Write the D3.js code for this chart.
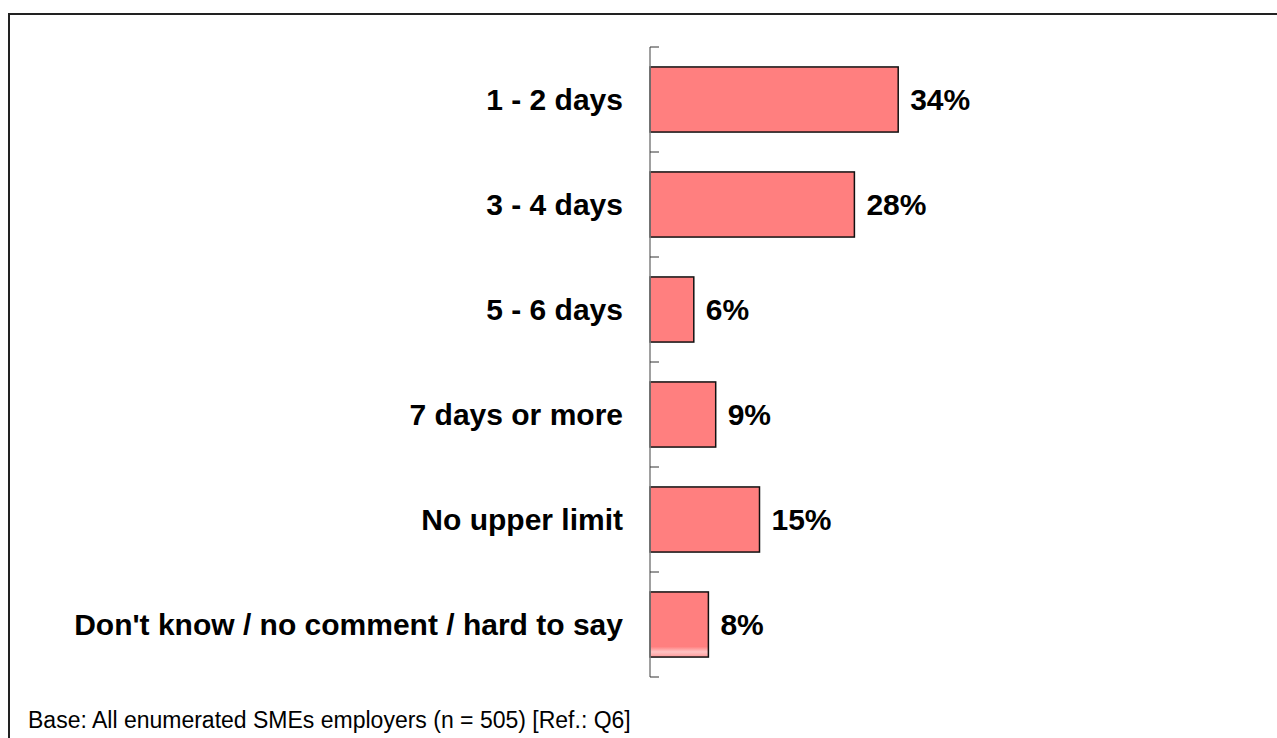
<!DOCTYPE html>
<html>
<head>
<meta charset="utf-8">
<script src="https://cdn.jsdelivr.net/npm/d3@7"></script>
<style>
  html, body { margin: 0; padding: 0; background: #fff; }
  svg { display: block; }
  text { font-family: "Liberation Sans", Arial, sans-serif; }
</style>
</head>
<body>
<svg id="chart" width="1277" height="738"></svg>
<script>
// Maximum number of consecutive days of leave allowed
const categories = ["1 - 2 days", "3 - 4 days", "5 - 6 days", "7 days or more", "No upper limit", "Don't know / no comment / hard to say"];
const values = [34, 28, 6, 9, 15, 8];
const valueLabels = ["34%", "28%", "6%", "9%", "15%", "8%"];
const footnote = "Base: All enumerated SMEs employers (n = 505) [Ref.: Q6]";

const svg = d3.select("#chart");
const W = 1277, H = 738;

// Soft fade at the foot of the last bar
const grad = svg.append("defs").append("linearGradient")
  .attr("id", "lastBarFill").attr("x1", 0).attr("x2", 0).attr("y1", 0).attr("y2", 1);
grad.append("stop").attr("offset", "0.84").attr("stop-color", "#FF7F7F");
grad.append("stop").attr("offset", "0.92").attr("stop-color", "#FFC4C4");
grad.append("stop").attr("offset", "1").attr("stop-color", "#FF9A9A");

// Frame (only top and left edges fall inside the canvas)
svg.append("rect")
  .attr("x", 9).attr("y", 14)
  .attr("width", W + 20).attr("height", H + 20)
  .attr("fill", "none")
  .attr("stroke", "#222")
  .attr("stroke-width", 2);

const axisX = 650, axisTop = 47, axisBottom = 677;

const x = d3.scaleLinear().domain([0, 100]).range([axisX, axisX + 730]);
const y = d3.scaleBand().domain(categories).range([axisTop, axisBottom]).paddingInner(0.38).paddingOuter(0.19);

// Bars
svg.append("g").selectAll("rect")
  .data(values)
  .join("rect")
  .attr("x", x(0))
  .attr("y", (d, i) => y(categories[i]))
  .attr("width", d => x(d) - x(0))
  .attr("height", y.bandwidth())
  .attr("fill", (d, i) => i === values.length - 1 ? "url(#lastBarFill)" : "#FF7F7F")
  .attr("stroke", "#111")
  .attr("stroke-width", 1.5);

// Category axis: gray line with separator ticks pointing toward bars
const tickYs = d3.range(categories.length + 1).map(i => axisTop + i * (axisBottom - axisTop) / categories.length);
svg.append("line")
  .attr("x1", axisX).attr("x2", axisX)
  .attr("y1", axisTop).attr("y2", axisBottom)
  .attr("stroke", "#808080").attr("stroke-width", 1.5);
svg.append("g").selectAll("line")
  .data(tickYs)
  .join("line")
  .attr("x1", axisX).attr("x2", axisX + 9)
  .attr("y1", d => d).attr("y2", d => d)
  .attr("stroke", "#333").attr("stroke-width", 1);

// Category labels
svg.append("g").selectAll("text")
  .data(categories)
  .join("text")
  .attr("x", 623)
  .attr("y", d => y(d) + y.bandwidth() / 2)
  .attr("dy", "0.36em")
  .attr("text-anchor", "end")
  .attr("font-size", 30)
  .attr("font-weight", "bold")
  .attr("fill", "#000")
  .text(d => d);

// Value labels
svg.append("g").selectAll("text")
  .data(values)
  .join("text")
  .attr("x", d => x(d) + 12)
  .attr("y", (d, i) => y(categories[i]) + y.bandwidth() / 2)
  .attr("dy", "0.36em")
  .attr("font-size", 30)
  .attr("font-weight", "bold")
  .attr("fill", "#000")
  .text((d, i) => valueLabels[i]);

// Footnote
svg.append("text")
  .attr("x", 28).attr("y", 728)
  .attr("font-size", 23)
  .attr("fill", "#000")
  .text(footnote);
</script>
</body>
</html>
